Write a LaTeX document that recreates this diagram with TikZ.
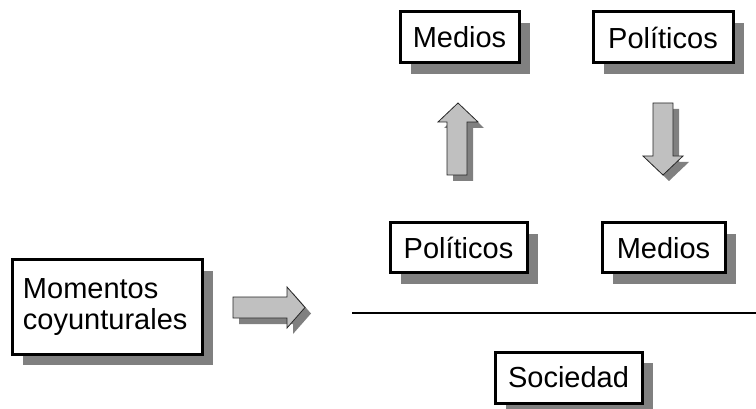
\documentclass[tikz,border=0pt]{standalone}
\usepackage{fontspec}
\setmainfont{Liberation Sans}
\usetikzlibrary{shadows}
\definecolor{shadowgray}{HTML}{808080}
\definecolor{arrowfill}{HTML}{C0C0C0}
\begin{document}
\begin{tikzpicture}[x=1pt,y=-1pt,
  box/.style={draw=black, line width=3pt, fill=white, inner sep=0pt,
    font=\fontsize{29}{31.5}\selectfont,
    general shadow={fill=shadowgray, shadow xshift=11pt, shadow yshift=-11pt}},
  blockarrow/.style={fill=arrowfill, draw=black!85, line width=0.8pt, line join=miter},
  arrowshadow/.style={fill=shadowgray}]
\useasboundingbox (0,0) rectangle (756,409);

% upper pair
\node[box, minimum width=119pt, minimum height=51pt] (medA) at (459.5,37.5) {Medios};
\node[box, minimum width=140pt, minimum height=51pt] (polA) at (663,37.5) {Políticos};

% lower pair
\node[box, minimum width=137pt, minimum height=50pt] (polB) at (458.5,248) {Políticos};
\node[box, minimum width=123pt, minimum height=50pt] (medB) at (663.5,248) {Medios};

% left box
\node[box, minimum width=190pt, minimum height=94pt, text width=168pt, align=left] (mom) at (107,307)
  {Momentos\\coyunturales};

% bottom box
\node[box, minimum width=147pt, minimum height=51pt] (soc) at (568.5,377.5) {Sociedad};

% separator
\coordinate (lineL) at (352,313);
\coordinate (lineR) at (756,313);
\draw[line width=2.4pt] (lineL) -- (lineR);

% up arrow (between lower and upper Medios/Políticos)
\begin{scope}[shift={(6,6)}]
  \fill[arrowshadow] (447,175) -- (447,122) -- (438,122) -- (458,103) -- (478,122) -- (467,122) -- (467,175) -- cycle;
\end{scope}
\filldraw[blockarrow] (447,175) -- (447,122) -- (438,122) -- (458,103) -- (478,122) -- (467,122) -- (467,175) -- cycle;

% down arrow
\begin{scope}[shift={(6,6)}]
  \fill[arrowshadow] (653,103) -- (673,103) -- (673,156) -- (683,156) -- (663,175) -- (643,156) -- (653,156) -- cycle;
\end{scope}
\filldraw[blockarrow] (653,103) -- (673,103) -- (673,156) -- (683,156) -- (663,175) -- (643,156) -- (653,156) -- cycle;

% right arrow
\begin{scope}[shift={(6,6)}]
  \fill[arrowshadow] (233,297) -- (287,297) -- (287,287) -- (305,307.5) -- (287,328) -- (287,318) -- (233,318) -- cycle;
\end{scope}
\filldraw[blockarrow] (233,297) -- (287,297) -- (287,287) -- (305,307.5) -- (287,328) -- (287,318) -- (233,318) -- cycle;
\end{tikzpicture}
\end{document}
